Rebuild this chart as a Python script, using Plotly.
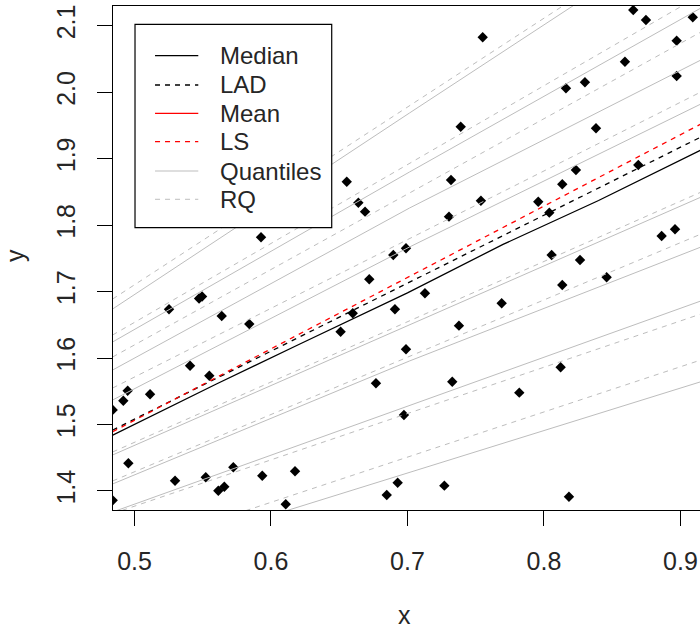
import plotly.graph_objects as go

# ---------------- data ----------------
pts_x = [0.484, 0.484, 0.4918, 0.495, 0.5114, 0.4955, 0.5297, 0.5522, 0.5614, 0.5658,
         0.5724, 0.5407, 0.5548, 0.5639, 0.5841, 0.5936, 0.6176, 0.6108, 0.5253, 0.5473,
         0.5495, 0.5927, 0.6555, 0.664, 0.6689, 0.6896, 0.6989, 0.7551, 0.739, 0.7319,
         0.7538, 0.7304, 0.7958, 0.8039, 0.8654, 0.8747, 0.909, 0.8972, 0.8161, 0.83,
         0.8593, 0.8972, 0.8381, 0.8691, 0.8234, 0.8134, 0.672, 0.7128, 0.6908, 0.769,
         0.6599, 0.8056, 0.8264, 0.8459, 0.8134, 0.8862, 0.896, 0.651, 0.7377, 0.6989,
         0.6769, 0.7328, 0.7819, 0.6974, 0.6928, 0.6848, 0.727, 0.8122, 0.8183]
pts_y = [1.386, 1.522, 1.5358, 1.5509, 1.5455, 1.4417, 1.4155, 1.4206, 1.4004, 1.4064,
         1.4356, 1.5885, 1.5734, 1.6633, 1.6512, 1.423, 1.4296, 1.380, 1.6733, 1.6896,
         1.6926, 1.7817, 1.8653, 1.8337, 1.8202, 1.755, 1.7651, 2.0825, 1.948, 1.8679,
         1.8367, 1.8127, 1.8352, 1.8187, 2.1236, 2.1086, 2.1126, 2.0774, 2.0058, 2.0148,
         2.0458, 2.0243, 1.9456, 1.8904, 1.8829, 1.8614, 1.7185, 1.6974, 1.6733, 1.6824,
         1.6673, 1.755, 1.7475, 1.7215, 1.7099, 1.7836, 1.7937, 1.6396, 1.6487, 1.6132,
         1.562, 1.5644, 1.5479, 1.5143, 1.4125, 1.394, 1.408, 1.5861, 1.3914]

# median curve (solid black)
median_x = [0.484, 0.56, 0.62, 0.70, 0.77, 0.84, 0.915]
median_y = [1.484, 1.561, 1.620, 1.698, 1.771, 1.837, 1.913]

# straight fits: LAD (black dashed) and LS (red dashed)
fit_x = [0.484, 0.915]
lad_y = [1.4917, 1.9325]
ls_y = [1.4892, 1.9521]

# quantile curves (solid gray), sampled at quant_x
quant_x = [0.484, 0.7015, 0.915]
quant_y = [
    [1.6738, 1.9687, 2.256],
    [1.6242, 1.8799, 2.1266],
    [1.582, 1.8257, 2.0484],
    [1.5369, 1.7671, 1.9822],
    [1.4542, 1.6505, 1.8421],
    [1.4106, 1.5956, 1.767],
    [1.3684, 1.5288, 1.6859],
    [1.289, 1.4281, 1.5644],
]

# linear quantile regression lines (dashed gray)
rq_x = [0.484, 0.915]
rq_y = [
    [1.6888, 2.265],
    [1.6347, 2.1462],
    [1.6016, 2.0905],
    [1.5549, 2.0003],
    [1.4587, 1.8496],
    [1.4151, 1.7865],
    [1.366, 1.6663],
    [1.3041, 1.5971],
]

legend_labels = ["Median", "LAD", "Mean", "LS", "Quantiles", "RQ"]
x_ticks = [0.5, 0.6, 0.7, 0.8, 0.9]
y_ticks = [1.4, 1.5, 1.6, 1.7, 1.8, 1.9, 2.0, 2.1]

# ---------------- figure ----------------
GRAY = "#bdbdbd"
DASH = "5px,5px"
FONT = "Liberation Sans, Arial, sans-serif"
TXT = "#262626"

fig = go.Figure()

fig.add_trace(go.Scatter(x=pts_x, y=pts_y, mode="markers",
                         marker=dict(symbol="diamond", size=8, color="black"),
                         showlegend=False, hoverinfo="skip"))

for ys in quant_y:
    fig.add_trace(go.Scatter(x=quant_x, y=ys, mode="lines",
                             line=dict(color=GRAY, width=1), showlegend=False))
for ys in rq_y:
    fig.add_trace(go.Scatter(x=rq_x, y=ys, mode="lines",
                             line=dict(color=GRAY, width=1, dash=DASH), showlegend=False))

fig.add_trace(go.Scatter(x=median_x, y=median_y, mode="lines",
                         line=dict(color="black", width=1.3), showlegend=False))
fig.add_trace(go.Scatter(x=fit_x, y=lad_y, mode="lines",
                         line=dict(color="black", width=1.3, dash=DASH), showlegend=False))
fig.add_trace(go.Scatter(x=fit_x, y=ls_y, mode="lines",
                         line=dict(color="red", width=1.3, dash=DASH), showlegend=False))

# ---- manual legend box (paper coords of the plotting region) ----
shapes = [dict(type="rect", xref="paper", yref="paper", x0=0.0375, x1=0.3726,
               y0=0.5601, y1=0.9637, line=dict(color="black", width=1.2),
               fillcolor="white", layer="above")]
leg_styles = [("black", "solid"), ("black", "dash"), ("red", "solid"),
              ("red", "dash"), (GRAY, "solid"), (GRAY, "dash")]
leg_y = [0.9014, 0.8433, 0.7871, 0.7308, 0.6726, 0.6165]
annotations = []
for lab, (col, dsh), yy in zip(legend_labels, leg_styles, leg_y):
    shapes.append(dict(type="line", xref="paper", yref="paper", x0=0.0716, x1=0.1453,
                       y0=yy, y1=yy, layer="above",
                       line=dict(color=col, width=1.3 if col != GRAY else 1,
                                 dash=DASH if dsh == "dash" else "solid")))
    annotations.append(dict(text=lab, xref="paper", yref="paper", x=0.1794, y=yy,
                            xanchor="left", yanchor="middle", showarrow=False,
                            font=dict(size=24, color=TXT, family=FONT)))

annotations.append(dict(text="x", xref="paper", yref="paper", x=0.4974, y=-0.2083,
                        xanchor="center", yanchor="middle", showarrow=False,
                        font=dict(size=25, color=TXT, family=FONT)))
annotations.append(dict(text="y", xref="paper", yref="paper", x=-0.167, y=0.506,
                        xanchor="center", yanchor="middle", showarrow=False, textangle=-90,
                        font=dict(size=25, color=TXT, family=FONT)))

fig.update_layout(
    width=700, height=631,
    margin=dict(l=113, r=0, t=6, b=121, autoexpand=False),
    paper_bgcolor="white", plot_bgcolor="white",
    font=dict(family=FONT, size=25, color=TXT),
    shapes=shapes, annotations=annotations,
    showlegend=False,
    xaxis=dict(range=[0.48425, 0.9143], tickvals=x_ticks, ticktext=[str(v) for v in x_ticks],
               showgrid=False, zeroline=False, showline=True, mirror=True, automargin=False,
               linecolor="black", linewidth=1.2, ticks="outside", ticklen=15,
               tickcolor="black", tickwidth=1.2, ticklabelstandoff=14,
               tickfont=dict(size=25, color=TXT)),
    yaxis=dict(range=[1.3714, 2.1296], tickvals=y_ticks, automargin=False,
               ticktext=["%.1f" % v for v in y_ticks],
               showgrid=False, zeroline=False, showline=True, mirror=False,
               linecolor="black", linewidth=1.2, ticks="outside", ticklen=15,
               tickcolor="black", tickwidth=1.2, tickangle=-90, ticklabelstandoff=12,
               tickfont=dict(size=25, color=TXT)),
)

fig.write_html("out.html", config={"displayModeBar": False},
               post_script="document.body.style.margin='0';document.body.style.overflow='hidden';")
